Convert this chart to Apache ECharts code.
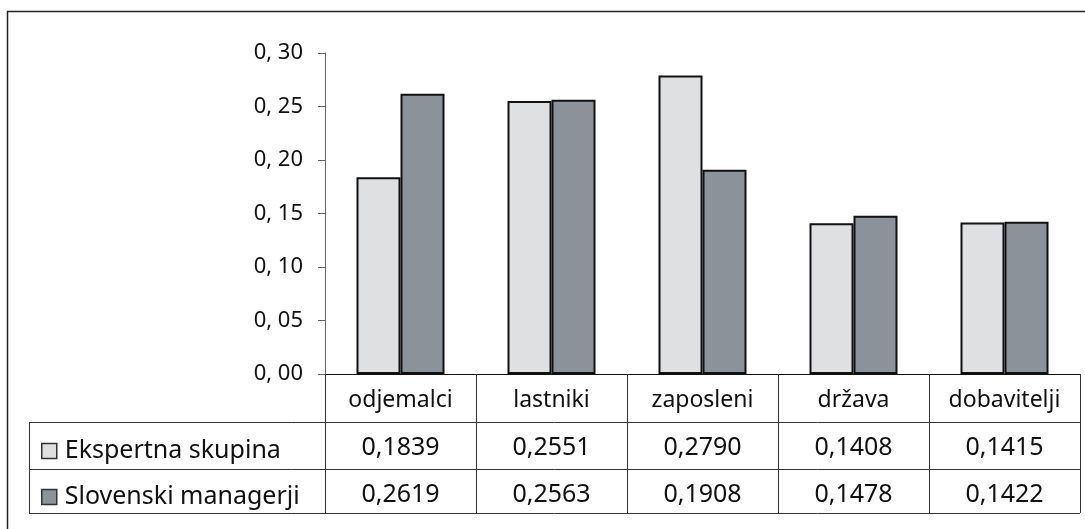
<!DOCTYPE html>
<html>
<head>
<meta charset="utf-8">
<script src="https://cdn.jsdelivr.net/npm/echarts@6/dist/echarts.min.js"></script>
<style>
html,body{margin:0;padding:0;background:#fff;}
#c{width:1085px;height:529px;}
</style>
</head>
<body>
<div id="c"></div>
<script>
const categories = ['odjemalci', 'lastniki', 'zaposleni', 'država', 'dobavitelji'];
const seriesNames = ['Ekspertna skupina', 'Slovenski managerji'];
const ekspertna = [0.1839, 0.2551, 0.2790, 0.1408, 0.1415];
const slovenski = [0.2619, 0.2563, 0.1908, 0.1478, 0.1422];
const yMin = 0, yMax = 0.30, yStep = 0.05;

const FONT = '"Noto Sans", "Open Sans", sans-serif';
const LIGHT = '#dfe0e2';
const DARK = '#8b9299';

const fmtVal = v => v.toFixed(4).replace('.', ',');
const fmtTick = v => v.toFixed(2).replace('.', ', ');

const chart = echarts.init(document.getElementById('c'), null, {renderer: 'canvas'});

const gridLeft = 325, gridRight = 5, gridTop = 53, gridBottom = 155;
const W = 1085, H = 529;
const axisY = H - gridBottom;
const xRight = W - gridRight;
const tableLeft = 29;
const rowLines = [422, 469, 513];

const legendText = {fontFamily: FONT, fontSize: 25, color: '#111', lineHeight: 26, padding: [0, 0, 0, 3]};

const option = {
  backgroundColor: '#fff',
  animation: false,
  textStyle: {fontFamily: FONT},
  grid: {left: gridLeft, right: gridRight, top: gridTop, bottom: gridBottom, containLabel: false},
  legend: [
    {
      data: [seriesNames[0]], orient: 'vertical', left: 36, top: 433, icon: 'rect',
      itemWidth: 15, itemHeight: 15, itemGap: 10,
      itemStyle: {borderColor: '#333', borderWidth: 1.5},
      textStyle: legendText, selectedMode: false
    },
    {
      data: [seriesNames[1]], orient: 'vertical', left: 36, top: 479, icon: 'rect',
      itemWidth: 15, itemHeight: 15, itemGap: 10,
      itemStyle: {borderColor: '#333', borderWidth: 1.5},
      textStyle: legendText, selectedMode: false
    }
  ],
  xAxis: {
    type: 'category',
    data: categories,
    boundaryGap: true,
    axisLine: {show: true, lineStyle: {color: '#111', width: 1.2}},
    axisTick: {show: true, inside: false, length: rowLines[2] - axisY, lineStyle: {color: '#333', width: 1}},
    axisLabel: {
      margin: 3,
      interval: 0,
      formatter: (v, i) => '{h|' + v + '}\n{v|' + fmtVal(ekspertna[i]) + '}\n{v|' + fmtVal(slovenski[i]) + '}',
      rich: {
        h: {fontFamily: FONT, fontSize: 23, color: '#111', lineHeight: 47, align: 'center'},
        v: {fontFamily: FONT, fontSize: 25, color: '#111', lineHeight: 47, align: 'center'}
      }
    }
  },
  yAxis: {
    type: 'value',
    min: yMin, max: yMax, interval: yStep,
    axisLine: {show: true, lineStyle: {color: '#666', width: 1}},
    axisTick: {show: true, inside: false, length: 7, lineStyle: {color: '#666'}},
    splitLine: {show: false},
    axisLabel: {margin: 22, fontFamily: FONT, fontSize: 22, color: '#111', formatter: fmtTick}
  },
  series: [
    {
      name: seriesNames[0], type: 'bar', data: ekspertna, barWidth: 44, barGap: '0%',
      itemStyle: {color: LIGHT, borderColor: '#111', borderWidth: 2}
    },
    {
      name: seriesNames[1], type: 'bar', data: slovenski, barWidth: 44,
      itemStyle: {color: DARK, borderColor: '#111', borderWidth: 2}
    }
  ],
  graphic: [
    {type: 'rect', shape: {x: 7.5, y: 11.5, width: W + 20, height: H + 20}, style: {fill: 'none', stroke: '#222', lineWidth: 1.5}, silent: true, z: 100},
    ...rowLines.map(y => ({type: 'line', shape: {x1: tableLeft, y1: y + 0.5, x2: xRight, y2: y + 0.5}, style: {stroke: '#333', lineWidth: 1}, silent: true})),
    {type: 'line', shape: {x1: tableLeft + 0.5, y1: rowLines[0], x2: tableLeft + 0.5, y2: rowLines[2] + 0.5}, style: {stroke: '#333', lineWidth: 1}, silent: true}
  ]
};
chart.setOption(option);
</script>
</body>
</html>
